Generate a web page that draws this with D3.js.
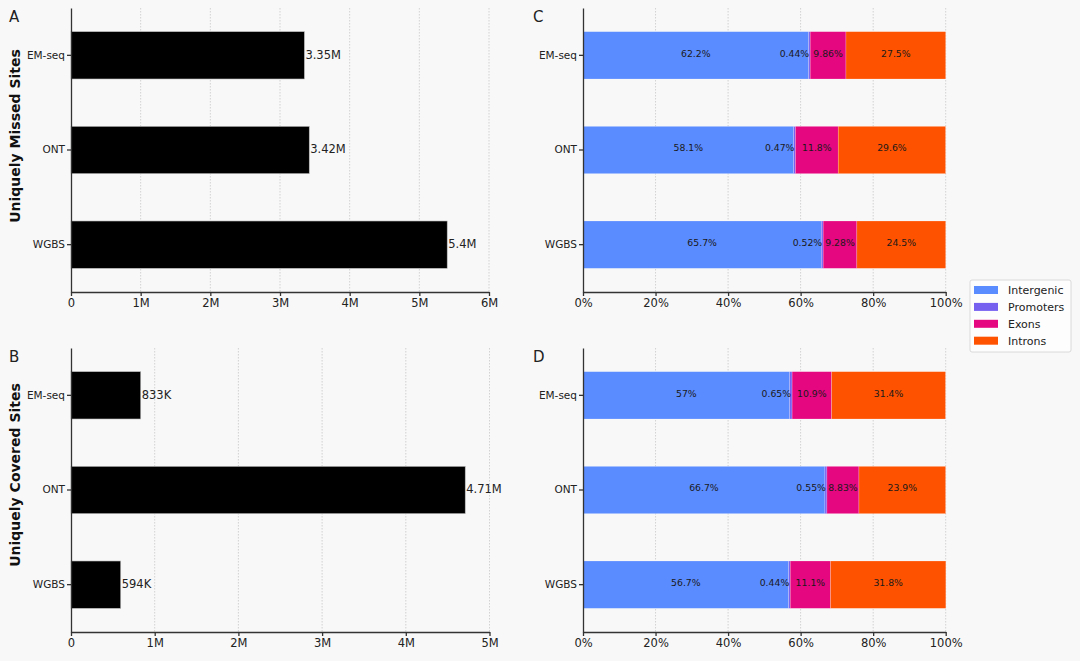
<!DOCTYPE html>
<html lang="en">
<head>
  <meta charset="UTF-8">
  <title>Uniquely missed / covered sites</title>
  <script src="https://cdnjs.cloudflare.com/ajax/libs/d3/7.8.5/d3.min.js"></script>
  <style>
    body { margin: 0; background: #f8f8f8; }
    svg { display: block; font-family: "DejaVu Sans", sans-serif; }
    .grid line { stroke: #c8c8c8; stroke-width: 0.8; stroke-dasharray: 1.5,1.5; }
    .axis path, .axis line { stroke: #333; stroke-width: 1.3; }
    .axis text { fill: #222; font-family: "DejaVu Sans", sans-serif; }
  </style>
</head>
<body>
  <div id="chart"></div>

  <script>
    // data
    const methods = ["EM-seq", "ONT", "WGBS"];
    const missedSites = [3.35e6, 3.42e6, 5.40e6];
    const coveredSites = [833e3, 4.71e6, 594e3];
    const regions = ["Intergenic", "Promoters", "Exons", "Introns"];
    const regionColors = ["#5a8cff", "#7560f0", "#e5077f", "#ff5200"];
    // percent of sites per region, one row per method
    const missedShares = [
      [62.2, 0.44, 9.86, 27.5],
      [58.1, 0.47, 11.8, 29.6],
      [65.7, 0.52, 9.28, 24.5]
    ];
    const coveredShares = [
      [57.0, 0.65, 10.9, 31.4],
      [66.7, 0.55, 8.83, 23.9],
      [56.7, 0.44, 11.1, 31.8]
    ];
    const missedTicks = [0, 1e6, 2e6, 3e6, 4e6, 5e6, 6e6];
    const coveredTicks = [0, 1e6, 2e6, 3e6, 4e6, 5e6];
    const pctTicks = [0, 20, 40, 60, 80, 100];

    const W = 1080, H = 661;
    const svg = d3.select("#chart").append("svg")
      .attr("width", W).attr("height", H);
    svg.append("rect").attr("width", W).attr("height", H).attr("fill", "#f8f8f8");

    const fmtCount = d => d3.format(".3~s")(d).replace("k", "K");
    const fmtPct = d3.format(".3~g");

    function frame(box, x, ticks, tickFmt) {
      const g = svg.append("g");
      const y = d3.scaleBand().domain(methods)
        .range([box.top, box.bottom]).paddingInner(0.5).paddingOuter(0.25);

      // dotted vertical grid
      g.append("g").attr("class", "grid")
        .selectAll("line").data(ticks.slice(1)).join("line")
        .attr("x1", d => x(d)).attr("x2", d => x(d))
        .attr("y1", box.top).attr("y2", box.bottom);

      const marks = g.append("g");

      g.append("g").attr("class", "axis")
        .attr("transform", `translate(0,${box.bottom})`)
        .call(d3.axisBottom(x).tickValues(ticks).tickFormat(tickFmt).tickSizeInner(4).tickSizeOuter(0).tickPadding(3))
        .call(a => a.selectAll("text").attr("font-size", 11.5));
      g.append("g").attr("class", "axis")
        .attr("transform", `translate(${x.range()[0]},0)`)
        .call(d3.axisLeft(y).tickSizeInner(4).tickSizeOuter(0).tickPadding(2))
        .call(a => a.selectAll("text").attr("font-size", 10.5));

      // letter
      g.append("text").attr("x", box.letterX).attr("y", box.top + 14)
        .attr("font-size", 15).attr("fill", "#222").text(box.letter);
      return { g: marks, y };
    }

    function countPanel(box, values, ticks) {
      const x = d3.scaleLinear().domain([0, ticks[ticks.length - 1]]).range([71, box.right]);
      const { g, y } = frame(box, x, ticks, d3.format("~s"));
      g.selectAll("rect").data(values).join("rect")
        .attr("x", x(0)).attr("y", (d, i) => y(methods[i]))
        .attr("width", d => x(d) - x(0)).attr("height", y.bandwidth())
        .attr("fill", "#000").attr("stroke", "#bbb").attr("stroke-width", 0.6);
      g.selectAll("text.val").data(values).join("text").attr("class", "val")
        .attr("x", d => x(d) + 1).attr("y", (d, i) => y(methods[i]) + y.bandwidth() / 2)
        .attr("dy", "0.3em").attr("font-size", 11.5).attr("fill", "#222")
        .text(fmtCount);
      svg.append("text")
        .attr("transform", `translate(20,${box.titleY}) rotate(-90)`)
        .attr("text-anchor", "middle").attr("font-size", 14).attr("font-weight", "bold")
        .attr("fill", "#111").text(box.title);
    }

    function sharePanel(box, shares) {
      const x = d3.scaleLinear().domain([0, 100]).range([583, 945.7]);
      const { g, y } = frame(box, x, pctTicks, d => d + "%");
      const rows = shares.map((s, i) => {
        const o = { method: methods[i] };
        regions.forEach((r, j) => o[r] = s[j]);
        return o;
      });
      const series = d3.stack().keys(regions)(rows);
      series.forEach((s, k) => {
        const sg = g.append("g");
        sg.selectAll("rect").data(s).join("rect")
          .attr("x", d => x(d[0])).attr("y", d => y(d.data.method))
          .attr("width", d => x(d[1]) - x(d[0])).attr("height", y.bandwidth())
          .attr("fill", regionColors[k])
          .attr("stroke", "#ffffff").attr("stroke-opacity", 0.35).attr("stroke-width", 0.6);
        sg.selectAll("text").data(s).join("text")
          .attr("x", d => k === 1 ? x(d[1]) - 1 : (x(d[0]) + x(d[1])) / 2)
          .attr("y", d => y(d.data.method) + y.bandwidth() / 2 - 2)
          .attr("dy", "0.35em")
          .attr("text-anchor", k === 1 ? "end" : "middle")
          .attr("font-size", 9.3).attr("fill", "#1a1a1a")
          .text(d => fmtPct(d.data[regions[k]]) + "%");
      });
    }

    countPanel({ top: 8, bottom: 292, right: 489, letter: "A", letterX: 9,
      title: "Uniquely Missed Sites", titleY: 136 }, missedSites, missedTicks);
    countPanel({ top: 348, bottom: 632, right: 489.5, letter: "B", letterX: 9,
      title: "Uniquely Covered Sites", titleY: 475 }, coveredSites, coveredTicks);
    sharePanel({ top: 8, bottom: 292, letter: "C", letterX: 533 }, missedShares);
    sharePanel({ top: 348, bottom: 632, letter: "D", letterX: 533 }, coveredShares);

    // legend
    const lg = svg.append("g").attr("transform", "translate(970,280)");
    lg.append("rect").attr("width", 101).attr("height", 72).attr("rx", 2)
      .attr("fill", "#fdfdfd").attr("stroke", "#d0d0d0").attr("stroke-width", 0.8);
    const li = lg.selectAll("g.item").data(regions).join("g").attr("class", "item")
      .attr("transform", (d, i) => `translate(4,${10 + i * 16.9})`);
    li.append("rect").attr("y", -4).attr("width", 24).attr("height", 8)
      .attr("fill", (d, i) => regionColors[i]);
    li.append("text").attr("x", 34).attr("dy", "0.35em").attr("font-size", 11)
      .attr("fill", "#222").text(d => d);
  </script>
</body>
</html>
